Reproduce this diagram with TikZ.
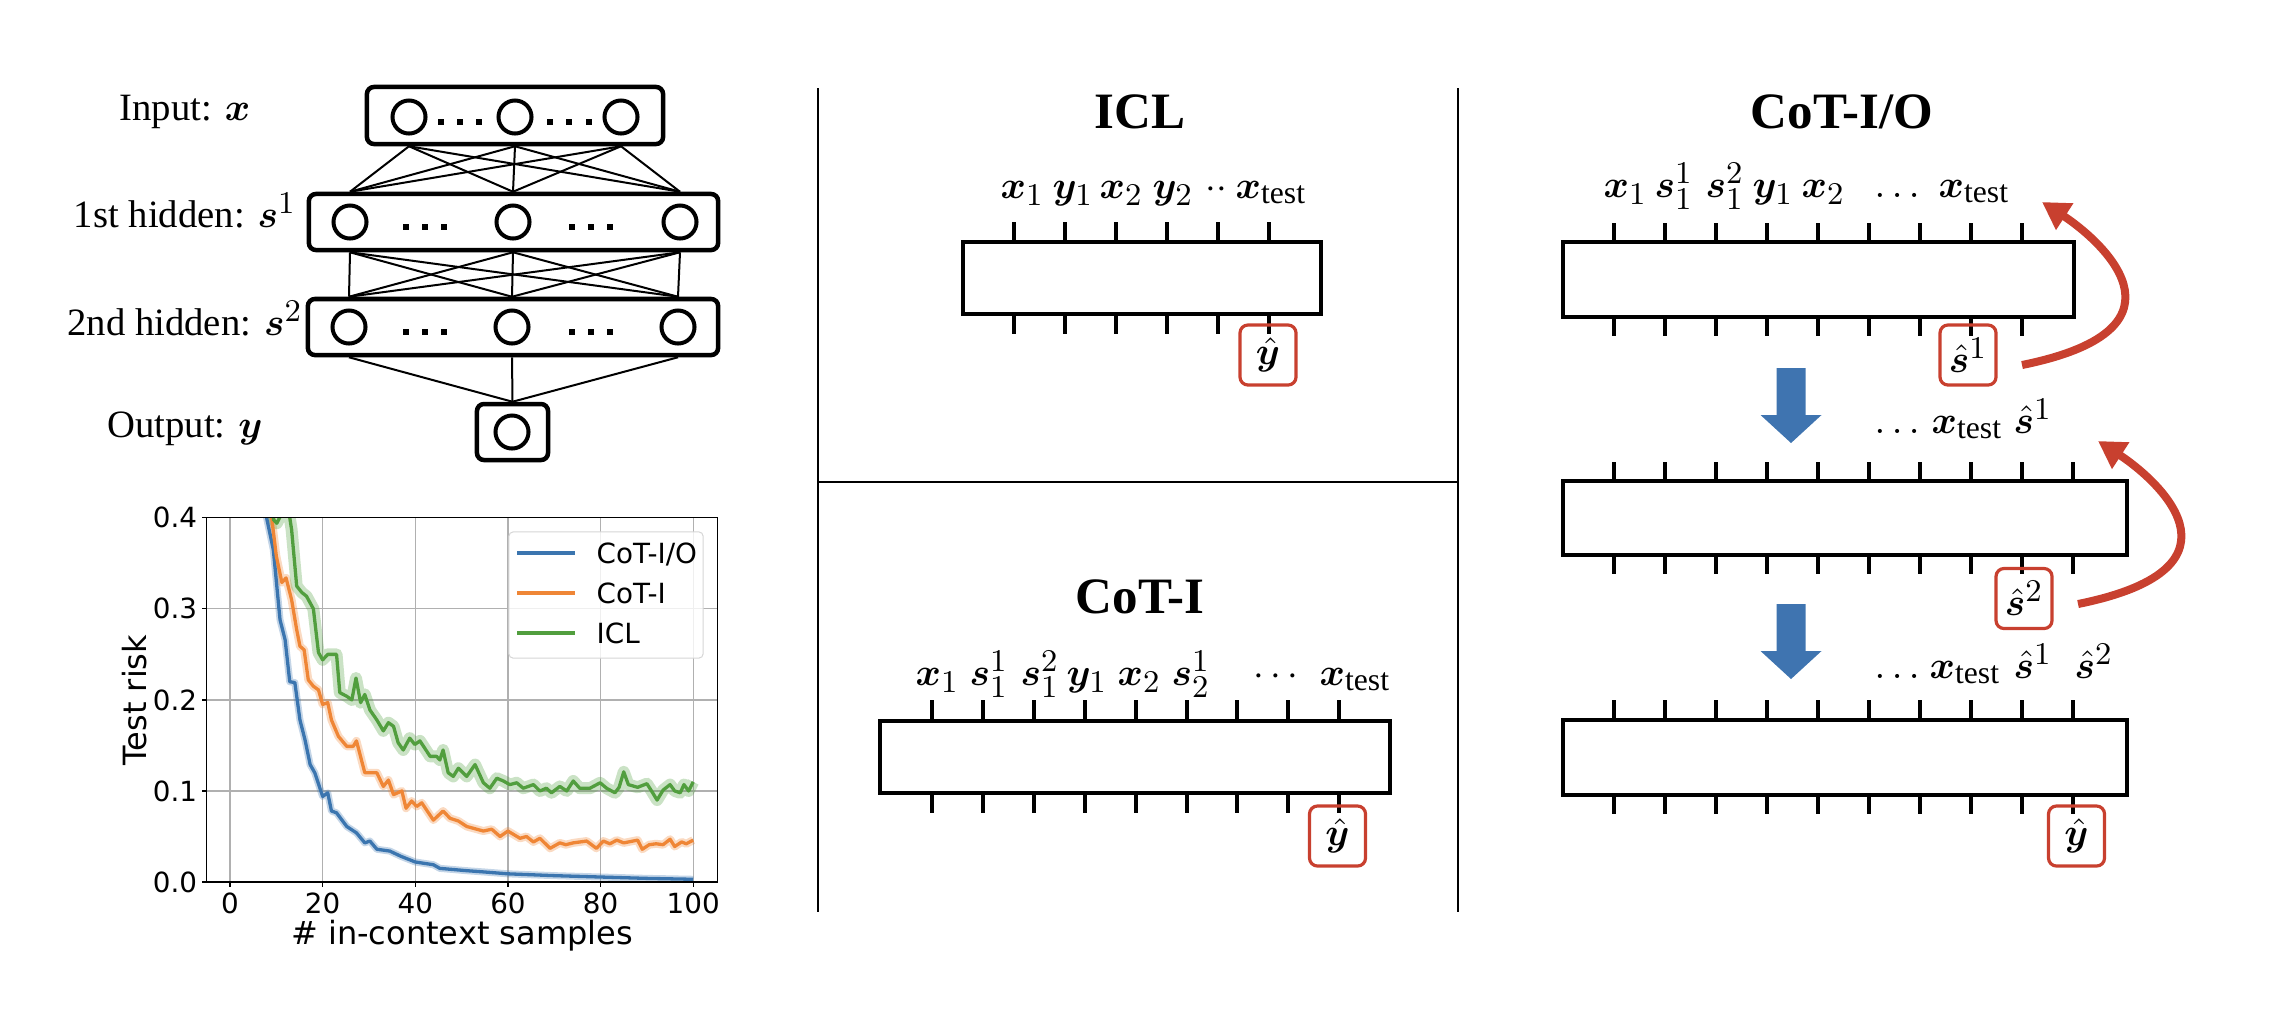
\documentclass[tikz,border=0pt]{standalone}
\usepackage{amsmath,bm}
\usepackage{fontspec}
\setmainfont{Liberation Serif}
\newfontfamily\plotfont{DejaVu Sans}
\DeclareMathSizes{11}{11}{9}{7}
\usetikzlibrary{arrows.meta}

\definecolor{lineio}{HTML}{3B75AF}
\definecolor{linei}{HTML}{EF8636}
\definecolor{lineicl}{HTML}{519E3E}
\definecolor{redarc}{HTML}{C8402F}
\definecolor{bluearr}{HTML}{3F74B0}
\definecolor{gridgray}{HTML}{B0B0B0}
\definecolor{legendgray}{HTML}{D6D6D6}

\tikzset{
  layerbox/.style={draw, line width=0.045cm, rounded corners=0.07cm, inner sep=0pt},
  neuron/.style={draw, circle, line width=0.04cm, minimum size=0.33cm, inner sep=0pt},
  wire/.style={line width=0.02cm},
  netlabel/.style={anchor=base, font=\fontsize{11}{13}\selectfont},
  title/.style={anchor=base, font=\fontsize{14.5}{17}\selectfont\bfseries},
  tokenbox/.style={draw, line width=0.04cm, inner sep=0pt},
  tickmark/.style={line width=0.04cm},
  tok/.style={anchor=base west, inner sep=0pt, font=\fontsize{11}{13}\selectfont},
  outbox/.style={draw=redarc, line width=0.032cm, rounded corners=0.08cm, minimum width=0.56cm, minimum height=0.6cm, inner sep=0pt, font=\fontsize{11}{13}\selectfont},
  feedback/.style={draw=redarc, line width=0.08cm, -{Triangle[length=0.27cm,width=0.3cm]}},
  sepline/.style={line width=0.028cm},
  gridline/.style={gridgray, line width=0.012cm},
  frame/.style={line width=0.012cm},
  band/.style={line width=#1, opacity=0.3, line join=round},
  curve/.style={line width=0.033cm, line join=round},
  ticklabel/.style={inner sep=0pt, font=\plotfont\fontsize{7.9}{9.5}\selectfont},
  axislabel/.style={inner sep=0pt, font=\plotfont\fontsize{9.1}{11}\selectfont}
}
% block arrow pointing down, top centre at (#1,#2)
\def\blockdown(#1,#2){\fill[bluearr] ({#1-14.5},#2) -- ++(29,0) -- ++(0,47) -- ++(16,0) -- ++(-30.5,28) -- ++(-30.5,-28) -- ++(16,0) -- cycle;}

\begin{document}
\begin{tikzpicture}[x=0.01cm, y=-0.01cm]
	\useasboundingbox (0,0) rectangle (2286,1008);
	%%%%% NETWORK %%%%%
	\node[layerbox, minimum width=2.96cm, minimum height=0.57cm] (inp) at (515,115.5) {};
	\node[layerbox, minimum width=4.09cm, minimum height=0.56cm] (h1) at (513.5,222) {};
	\node[layerbox, minimum width=4.10cm, minimum height=0.56cm] (h2) at (513,327) {};
	\node[layerbox, minimum width=0.71cm, minimum height=0.56cm] (outl) at (512.5,432) {};
	
	\foreach \i/\px in {1/409,2/515,3/621} \node[neuron] (i\i) at (\px,117) {};
	\foreach \i/\px in {1/350,2/513,3/680} \node[neuron] (a\i) at (\px,222) {};
	\foreach \i/\px in {1/349,2/512,3/678} \node[neuron] (b\i) at (\px,327) {};
	\node[neuron] (o1) at (512,432) {};
	
	\foreach \px in {441,460,479,550,569,589} \fill ({\px-3},119) rectangle ++(6,6);
	\foreach \px in {406,425,444,572,591,610} {
		\fill ({\px-3},224) rectangle ++(6,6);
		\fill ({\px-3},329) rectangle ++(6,6);
	}
	
	\foreach \i in {1,2,3} \foreach \j in {1,2,3} {
		\draw[wire] (inp.south -| i\i) -- (h1.north -| a\j);
		\draw[wire] (h1.south -| a\i) -- (h2.north -| b\j);
	}
	\foreach \j in {1,2,3} \draw[wire] (h2.south -| b\j) -- (outl.north);
	
	\node[netlabel] (linp) at (185,120) {Input: $\bm{x}$};
	\node[netlabel] (lh1) at (185,227) {1st hidden: $\bm{s}^1$};
	\node[netlabel] (lh2) at (185,335) {2nd hidden: $\bm{s}^2$};
	\node[netlabel] (lout) at (185,437) {Output: $\bm{y}$};
	
	%%%%% PLOT %%%%%
	\begin{scope}[shift={(230,882)}, x=0.0463cm, y=9.1cm]
		\foreach \v in {0,20,...,100} \draw[gridline] (\v,0) -- (\v,0.4);
		\foreach \v in {0.1,0.2,0.3} \draw[gridline] (-5,\v) -- (105.2,\v);
		\begin{scope}
			\clip (-5,0) rectangle (105.2,0.4);
			\draw[band=0.07cm, lineio] plot coordinates {(7.5,0.42) (7.9,0.4) (9.35,0.365) (10.8,0.288) (11.9,0.266) (12.9,0.22) (14,0.219) (15.1,0.178) (16.2,0.156) (17.3,0.129) (18.3,0.12) (20,0.094) (21.1,0.098) (21.9,0.078) (23,0.076) (25.2,0.061) (27.3,0.054) (29.1,0.043) (30.2,0.045) (31.7,0.036) (34.5,0.034) (37,0.028) (40,0.022) (43.9,0.019) (45.3,0.015) (51,0.0125) (55,0.011) (60,0.009) (70,0.007) (80,0.0055) (90,0.004) (100,0.003)};
			\draw[band=0.08cm, linei] plot coordinates {(8.5,0.42) (9,0.4) (10,0.358) (11.2,0.329) (12.1,0.334) (13.3,0.31) (14.4,0.277) (15.1,0.259) (16,0.255) (16.9,0.222) (18,0.215) (19.1,0.211) (20,0.195) (21.1,0.197) (21.9,0.178) (23.4,0.16) (25.2,0.149) (26.6,0.149) (27.3,0.155) (29.1,0.12) (31.7,0.12) (33.1,0.105) (34.2,0.112) (35.3,0.096) (37.1,0.1) (38,0.081) (39.2,0.089) (40.3,0.083) (41.4,0.087) (43.9,0.068) (46,0.078) (47.5,0.07) (49.3,0.067) (51.1,0.061) (54.7,0.056) (56.5,0.058) (58.3,0.05) (60,0.056) (62.6,0.048) (64,0.05) (65.5,0.044) (66.9,0.048) (69.1,0.037) (71.2,0.043) (72.5,0.041) (74.1,0.043) (77,0.045) (79.1,0.037) (80.6,0.045) (82,0.042) (83.5,0.046) (85,0.043) (87,0.045) (88,0.046) (89,0.036) (90.5,0.041) (92,0.042) (93.5,0.041) (95,0.047) (96,0.039) (97.5,0.044) (98.5,0.042) (100,0.046)};
			\draw[band=0.12cm, lineicl] plot coordinates {(9,0.42) (9.4,0.398) (10.1,0.394) (11.2,0.405) (12.6,0.41) (13.3,0.387) (14.4,0.325) (15.5,0.318) (16.5,0.314) (18,0.3) (19.1,0.252) (20,0.244) (21.1,0.25) (23,0.25) (23.7,0.208) (25.2,0.204) (26.3,0.2) (27.2,0.224) (28.2,0.197) (29.1,0.206) (30.2,0.189) (31.7,0.178) (33.1,0.166) (34.2,0.175) (35.3,0.171) (36.3,0.153) (37.4,0.145) (38.8,0.158) (39.9,0.151) (41,0.155) (43.2,0.138) (44.6,0.138) (45.3,0.134) (46,0.145) (47.1,0.12) (48.2,0.116) (49.3,0.125) (51.1,0.116) (52.9,0.129) (54.7,0.109) (56.1,0.103) (57.6,0.114) (59,0.111) (60.4,0.107) (61.9,0.109) (63.3,0.103) (65.5,0.107) (66.9,0.1) (68.3,0.103) (69.4,0.098) (71.2,0.105) (72.7,0.1) (74.1,0.111) (75.5,0.103) (77.7,0.103) (79.9,0.109) (81.3,0.103) (83.1,0.098) (84,0.104) (85,0.121) (86,0.107) (88,0.104) (90,0.108) (91,0.1) (92.2,0.09) (93.5,0.101) (95,0.107) (96,0.1) (97.2,0.098) (98,0.107) (99,0.1) (100,0.11)};
			\draw[curve, lineio] plot coordinates {(7.5,0.42) (7.9,0.4) (9.35,0.365) (10.8,0.288) (11.9,0.266) (12.9,0.22) (14,0.219) (15.1,0.178) (16.2,0.156) (17.3,0.129) (18.3,0.12) (20,0.094) (21.1,0.098) (21.9,0.078) (23,0.076) (25.2,0.061) (27.3,0.054) (29.1,0.043) (30.2,0.045) (31.7,0.036) (34.5,0.034) (37,0.028) (40,0.022) (43.9,0.019) (45.3,0.015) (51,0.0125) (55,0.011) (60,0.009) (70,0.007) (80,0.0055) (90,0.004) (100,0.003)};
			\draw[curve, linei] plot coordinates {(8.5,0.42) (9,0.4) (10,0.358) (11.2,0.329) (12.1,0.334) (13.3,0.31) (14.4,0.277) (15.1,0.259) (16,0.255) (16.9,0.222) (18,0.215) (19.1,0.211) (20,0.195) (21.1,0.197) (21.9,0.178) (23.4,0.16) (25.2,0.149) (26.6,0.149) (27.3,0.155) (29.1,0.12) (31.7,0.12) (33.1,0.105) (34.2,0.112) (35.3,0.096) (37.1,0.1) (38,0.081) (39.2,0.089) (40.3,0.083) (41.4,0.087) (43.9,0.068) (46,0.078) (47.5,0.07) (49.3,0.067) (51.1,0.061) (54.7,0.056) (56.5,0.058) (58.3,0.05) (60,0.056) (62.6,0.048) (64,0.05) (65.5,0.044) (66.9,0.048) (69.1,0.037) (71.2,0.043) (72.5,0.041) (74.1,0.043) (77,0.045) (79.1,0.037) (80.6,0.045) (82,0.042) (83.5,0.046) (85,0.043) (87,0.045) (88,0.046) (89,0.036) (90.5,0.041) (92,0.042) (93.5,0.041) (95,0.047) (96,0.039) (97.5,0.044) (98.5,0.042) (100,0.046)};
			\draw[curve, lineicl] plot coordinates {(9,0.42) (9.4,0.398) (10.1,0.394) (11.2,0.405) (12.6,0.41) (13.3,0.387) (14.4,0.325) (15.5,0.318) (16.5,0.314) (18,0.3) (19.1,0.252) (20,0.244) (21.1,0.25) (23,0.25) (23.7,0.208) (25.2,0.204) (26.3,0.2) (27.2,0.224) (28.2,0.197) (29.1,0.206) (30.2,0.189) (31.7,0.178) (33.1,0.166) (34.2,0.175) (35.3,0.171) (36.3,0.153) (37.4,0.145) (38.8,0.158) (39.9,0.151) (41,0.155) (43.2,0.138) (44.6,0.138) (45.3,0.134) (46,0.145) (47.1,0.12) (48.2,0.116) (49.3,0.125) (51.1,0.116) (52.9,0.129) (54.7,0.109) (56.1,0.103) (57.6,0.114) (59,0.111) (60.4,0.107) (61.9,0.109) (63.3,0.103) (65.5,0.107) (66.9,0.1) (68.3,0.103) (69.4,0.098) (71.2,0.105) (72.7,0.1) (74.1,0.111) (75.5,0.103) (77.7,0.103) (79.9,0.109) (81.3,0.103) (83.1,0.098) (84,0.104) (85,0.121) (86,0.107) (88,0.104) (90,0.108) (91,0.1) (92.2,0.09) (93.5,0.101) (95,0.107) (96,0.1) (97.2,0.098) (98,0.107) (99,0.1) (100,0.11)};
		\end{scope}
		\draw[frame] (-5,0) rectangle (105.2,0.4);
		\foreach \v in {0.0,0.1,0.2,0.3,0.4} {
			\draw[frame] (-5,\v) -- ++(-0.05cm,0);
			\node[ticklabel, anchor=east, xshift=-0.09cm] at (-5,\v) {\v};
		}
		\foreach \v in {0,20,...,100} {
			\draw[frame] (\v,0) -- ++(0,-0.05cm);
			\node[ticklabel, anchor=north, yshift=-0.1cm] at (\v,0) {\v};
		}
	\end{scope}
	\node[axislabel, rotate=90] (ylab) at (135,700) {Test risk};
	\node[axislabel, anchor=base] (xlab) at (462,944) {\# in-context samples};
	
	\node[draw=legendgray, fill=white, fill opacity=0.8, draw opacity=1, line width=0.01cm, rounded corners=0.04cm, minimum width=1.94cm, minimum height=1.26cm] (legend) at (606,595) {};
	\foreach \c/\t/\py [count=\n] in {lineio/{CoT-I/O}/553, linei/{CoT-I}/593, lineicl/{ICL}/633} {
		\draw[curve, \c] (517,\py) -- (575,\py);
		\node[ticklabel, anchor=base west] (leg\n) at (596,{\py+10}) {\t};
	}
	
	%%%%% PANELS %%%%%
	\draw[sepline] (818,88) -- (818,912);
	\draw[sepline] (1458,88) -- (1458,912);
	\draw[sepline] (818,482) -- (1458,482);
	
	\node[title] (ticl) at (1140,128) {ICL};
	\node[title] (tcoti) at (1140,613) {CoT-I};
	\node[title] (tcotio) at (1842,128) {CoT-I/O};
	
	% ICL
	\node[tokenbox, minimum width=3.58cm, minimum height=0.72cm] (iclbox) at (1142,278) {};
	\foreach \k in {0,...,5} \draw[tickmark] ({1014+50.9*\k},222) -- ({1014+50.9*\k},242) ({1014+50.9*\k},314) -- ({1014+50.9*\k},334);
	\foreach \px/\tk [count=\n] in {1000/\bm{x}_1, 1052/\bm{y}_1, 1099/\bm{x}_2, 1152/\bm{y}_2, 1205/\cdot\cdot, 1235/\bm{x}_{\mathrm{test}}}
		\node[tok] (icl\n) at (\px,198) {$\tk$};
	\node[outbox] (yicl) at (1268,355) {$\hat{\bm{y}}$};
	
	% CoT-I
	\node[tokenbox, minimum width=5.10cm, minimum height=0.72cm] (cotibox) at (1135,757) {};
	\foreach \k in {0,...,8} \draw[tickmark] ({932+50.9*\k},700) -- ({932+50.9*\k},721) ({932+50.9*\k},793) -- ({932+50.9*\k},813);
	\foreach \px/\tk [count=\n] in {915/\bm{x}_1, 969/\bm{s}_1^1, 1020/\bm{s}_1^2, 1066/\bm{y}_1, 1117/\bm{x}_2, 1171/\bm{s}_2^1, 1253/\cdots, 1319/\bm{x}_{\mathrm{test}}}
		\node[tok] (coti\n) at (\px,685) {$\tk$};
	\node[outbox] (ycoti) at (1337.5,836) {$\hat{\bm{y}}$};
	
	% CoT-I/O
	\node[tokenbox, minimum width=5.11cm, minimum height=0.75cm] (iobox1) at (1818.5,279.5) {};
	\node[tokenbox, minimum width=5.64cm, minimum height=0.74cm] (iobox2) at (1845,518) {};
	\node[tokenbox, minimum width=5.64cm, minimum height=0.75cm] (iobox3) at (1845,757.5) {};
	\foreach \k in {0,...,8} \draw[tickmark] ({1614+51*\k},223) -- ({1614+51*\k},242) ({1614+51*\k},317) -- ({1614+51*\k},336);
	\foreach \k in {0,...,9} {
		\draw[tickmark] ({1614+51*\k},462) -- ({1614+51*\k},481) ({1614+51*\k},555) -- ({1614+51*\k},574);
		\draw[tickmark] ({1614+51*\k},700) -- ({1614+51*\k},720) ({1614+51*\k},795) -- ({1614+51*\k},814);
	}
	\foreach \px/\tk [count=\n] in {1603/\bm{x}_1, 1654/\bm{s}_1^1, 1705/\bm{s}_1^2, 1752/\bm{y}_1, 1801/\bm{x}_2, 1874/\ldots, 1938/\bm{x}_{\mathrm{test}}}
		\node[tok] (ioa\n) at (\px,197) {$\tk$};
	\foreach \px/\tk [count=\n] in {1874/\ldots, 1931/\bm{x}_{\mathrm{test}}, 2013/\hat{\bm{s}}^1}
		\node[tok] (iob\n) at (\px,433) {$\tk$};
	\foreach \px/\tk [count=\n] in {1874/\ldots, 1929/\bm{x}_{\mathrm{test}}, 2013/\hat{\bm{s}}^1, 2074/\hat{\bm{s}}^2}
		\node[tok] (ioc\n) at (\px,678) {$\tk$};
	\node[outbox] (s1hat) at (1968,355) {$\hat{\bm{s}}^1$};
	\node[outbox] (s2hat) at (2024,598.5) {$\hat{\bm{s}}^2$};
	\node[outbox] (ycotio) at (2076.5,836) {$\hat{\bm{y}}$};
	
	\coordinate (fb1s) at (2022,365);
	\coordinate (fb1e) at (2042,202);
	\coordinate (fb2s) at (2078,604);
	\coordinate (fb2e) at (2098,441);
	\draw[feedback] (fb1s) .. controls (2205,328) and (2096,237) .. (fb1e);
	\draw[feedback] (fb2s) .. controls (2261,567) and (2152,476) .. (fb2e);
	
	\blockdown(1791,368)
	\blockdown(1791,604)
	%%%%% END %%%%%
\end{tikzpicture}
\end{document}
